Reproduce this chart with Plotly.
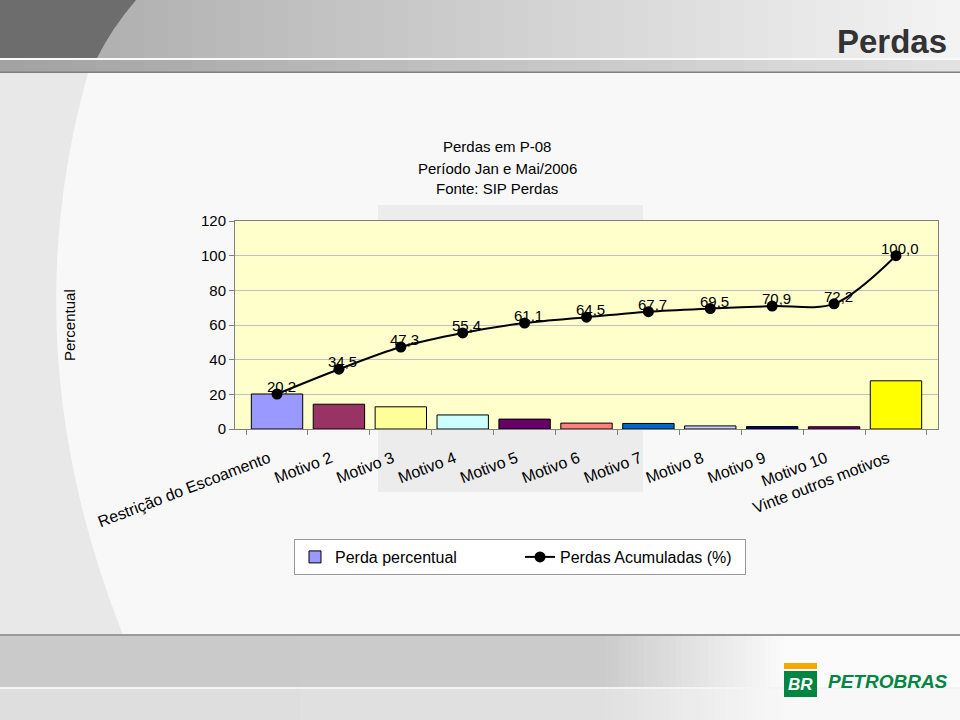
import plotly.graph_objects as go

# chart data
motivos = [
    "Restrição do Escoamento", "Motivo 2", "Motivo 3", "Motivo 4", "Motivo 5",
    "Motivo 6", "Motivo 7", "Motivo 8", "Motivo 9", "Motivo 10",
    "Vinte outros motivos",
]
perda_percentual = [20.2, 14.3, 12.8, 8.1, 5.7, 3.4, 3.2, 1.8, 1.4, 1.3, 27.8]
perdas_acumuladas = [20.2, 34.5, 47.3, 55.4, 61.1, 64.5, 67.7, 69.5, 70.9, 72.2, 100.0]
cores_barras = [
    "#9999FF", "#993366", "#FFFF99", "#CCFFFF", "#660066", "#FF8080",
    "#0066CC", "#CCCCFF", "#000080", "#800080", "#FFFF00",
]
titulo = ["Perdas em P-08", "Período Jan e Mai/2006", "Fonte: SIP Perdas"]

W, H = 960, 720
FONT = "Liberation Sans, Arial, sans-serif"


def px(x):
    return x / W


def py(y):
    return 1 - y / H


def rect(x0, y0, x1, y1, color):
    return dict(type="rect", xref="paper", yref="paper", layer="below",
                x0=px(x0), x1=px(x1), y0=py(y1), y1=py(y0),
                fillcolor=color, line=dict(width=0))


def path(d_parts, color):
    # d_parts: list of (cmd, [(x, y), ...]) in pixel coords
    d = ""
    for cmd, pts in d_parts:
        d += " " + cmd + " " + " ".join("{} {}".format(px(x), py(y)) for x, y in pts)
    d += " Z"
    return dict(type="path", xref="paper", yref="paper", layer="below",
                path=d.strip(), fillcolor=color, line=dict(width=0))


def mix(c0, c1, t):
    a = [int(c0[i:i + 2], 16) for i in (1, 3, 5)]
    b = [int(c1[i:i + 2], 16) for i in (1, 3, 5)]
    return "#" + "".join("{:02x}".format(round(a[k] + (b[k] - a[k]) * t)) for k in range(3))


def strips(x0, x1, y0, y1, c0, c1, n=40):
    out = []
    step = (x1 - x0) / n
    for i in range(n):
        out.append(rect(x0 + i * step, y0, x0 + (i + 1) * step + 0.5, y1,
                        mix(c0, c1, i / (n - 1))))
    return out


shapes = []
# top banner
shapes += strips(0, 960, 0, 58, "#a9a9a9", "#f3f3f3")
shapes.append(path([("M", [(0, 0)]), ("L", [(136, 0)]), ("Q", [(112, 28), (97, 58)]),
                    ("L", [(0, 58)])], "#6d6d6d"))
shapes.append(rect(0, 58, 960, 60, "#fafafa"))
shapes += strips(0, 960, 60, 72, "#a2a2a2", "#e2e2e2")
shapes.append(path([("M", [(0, 60)]), ("L", [(97, 60), (91, 72), (0, 72)])], "#8c8c8c"))
shapes.append(rect(0, 71.5, 960, 73, "#7e7e7e"))
# left light curve of the body
shapes.append(path([("M", [(0, 73)]), ("L", [(88, 73)]), ("Q", [(10, 350), (123, 635)]),
                    ("L", [(0, 635)])], "#e8e8e8"))
# light grey block behind the chart (outside the plot area)
shapes.append(rect(378, 205, 643, 221, "#ececec"))
shapes.append(rect(378, 429, 643, 492, "#ececec"))
# bottom bands
shapes.append(rect(0, 634, 960, 636, "#9a9a9a"))
shapes += strips(0, 600, 636, 687, "#cacaca", "#cbcbcb", n=2)
shapes += strips(600, 790, 636, 687, "#cbcbcb", "#fbfbfb", n=30)
shapes.append(rect(790, 636, 960, 687, "#fbfbfb"))
shapes.append(path([("M", [(0, 636)]), ("L", [(123, 636), (163, 687), (0, 687)])], "#d6d6d6"))
shapes.append(rect(0, 687, 960, 689, "#f4f4f4"))
shapes += strips(0, 600, 689, 720, "#dedede", "#e0e0e0", n=2)
shapes += strips(600, 790, 689, 720, "#e0e0e0", "#f8f8f8", n=30)
shapes.append(rect(790, 689, 960, 720, "#f8f8f8"))
shapes.append(path([("M", [(0, 689)]), ("L", [(164, 689), (190, 720), (0, 720)])], "#e6e6e6"))
# petrobras logo
shapes.append(rect(784, 663, 817, 669, "#F5A800"))
shapes.append(rect(784, 671, 817, 697, "#008542"))

fig = go.Figure()
fig.add_trace(go.Bar(
    x=motivos, y=perda_percentual, name="Perda percentual",
    marker=dict(color=cores_barras, line=dict(color="#000000", width=1)),
))
fig.add_trace(go.Scatter(
    x=motivos, y=perdas_acumuladas, name="Perdas Acumuladas (%)",
    mode="lines+markers",
    line=dict(color="#000000", width=2, shape="spline", smoothing=0.9),
    marker=dict(color="#000000", size=11),
))

annotations = []
for m, v in zip(motivos, perdas_acumuladas):
    annotations.append(dict(
        x=m, y=v, xref="x", yref="y", text="{:.1f}".format(v).replace(".", ","),
        showarrow=False, yanchor="bottom", yshift=-3, xshift=4,
        font=dict(size=15, color="#000000"),
    ))

for i, t in enumerate(titulo):
    annotations.append(dict(
        x=px(497), y=py(147 + i * 21), xref="paper", yref="paper", text=t,
        showarrow=False, xanchor="center", yanchor="middle",
        font=dict(size=15, color="#000000"),
    ))

annotations += [
    dict(x=px(70), y=py(325), xref="paper", yref="paper", text="Percentual",
         textangle=-90, showarrow=False, xanchor="center", yanchor="middle",
         font=dict(size=15, color="#000000")),
    dict(x=px(949), y=py(41), xref="paper", yref="paper", text="<b>Perdas</b>",
         showarrow=False, xanchor="right", yanchor="middle",
         font=dict(size=33, color="#333333")),
    dict(x=px(800.5), y=py(684), xref="paper", yref="paper", text="<b><i>BR</i></b>",
         showarrow=False, xanchor="center", yanchor="middle",
         font=dict(size=17, color="#ffffff")),
    dict(x=px(826), y=py(681), xref="paper", yref="paper", text="<b><i>PETROBRAS</i></b>",
         showarrow=False, xanchor="left", yanchor="middle",
         font=dict(size=19, color="#008542")),
]

fig.update_layout(
    width=W, height=H,
    margin=dict(l=0, r=0, t=0, b=0, autoexpand=False),
    paper_bgcolor="#f8f8f8",
    plot_bgcolor="#FFFFCC",
    font=dict(family=FONT, size=15, color="#000000"),
    bargap=0.17,
    showlegend=True,
    legend=dict(
        orientation="h", x=px(520), y=py(557), xanchor="center", yanchor="middle",
        bgcolor="#ffffff", bordercolor="#9a9a9a", borderwidth=1,
        font=dict(size=16), itemwidth=30, entrywidth=180, entrywidthmode="pixels",
    ),
    xaxis=dict(
        domain=[px(235), px(938)],
        showline=True, linecolor="#808080", mirror=True,
        ticks="outside", ticklen=5, tickcolor="#808080", tickson="boundaries",
        tickangle=-21, tickfont=dict(size=16), showgrid=False,
        ticklabelstandoff=10,
        tickmode="array", tickvals=motivos,
        # trailing spaces pull each rotated label back toward the category centre
        ticktext=[m + "\u00a0\u00a0" for m in motivos],
    ),
    yaxis=dict(
        domain=[py(429), py(221)], range=[0, 120], dtick=20,
        showline=True, linecolor="#808080", mirror=True,
        ticks="outside", ticklen=5, tickcolor="#808080",
        gridcolor="#c0c0c0", gridwidth=1, zeroline=False,
        tickfont=dict(size=15),
    ),
    shapes=shapes,
    annotations=annotations,
)

fig.write_html("out.html", config={"displayModeBar": False},
               post_script="document.body.style.margin='0';")
